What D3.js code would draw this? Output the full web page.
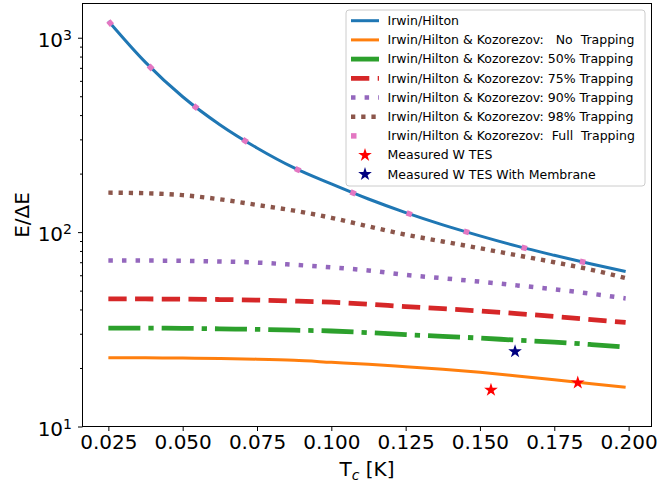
<!DOCTYPE html>
<html>
<head>
<meta charset="utf-8">
<script src="https://cdn.jsdelivr.net/npm/d3@7"></script>
<style>
  body { margin: 0; background: #fff; }
  svg text { font-family: "DejaVu Sans", sans-serif; fill: #000; }
</style>
</head>
<body>
<script>
// Tc [K] sample points and E/dE
var tc = [0.025, 0.0375, 0.05, 0.0625, 0.075, 0.0875, 0.1, 0.1125, 0.125, 0.1375, 0.15, 0.1625, 0.175, 0.1875, 0.199];
var irwinHilton = [1220, 747, 497, 357, 271, 214, 177, 148, 126, 109, 95.7, 84.7, 76, 68.6, 62.7];
var noTrap  = [22.6, 22.6, 22.5, 22.4, 22.2, 21.9, 21.4, 20.9, 20.3, 19.7, 19.0, 18.2, 17.4, 16.6, 15.9];
var trap50  = [32.1, 32.1, 32.0, 31.8, 31.6, 31.3, 31.0, 30.4, 29.7, 29.1, 28.5, 27.8, 27.2, 26.4, 25.6];
var trap75  = [45.4, 45.3, 45.2, 45.0, 44.7, 44.2, 43.6, 42.6, 41.4, 40.4, 39.3, 38.1, 36.8, 35.5, 34.3];
var trap90  = [71.5, 71.4, 71.2, 70.6, 69.7, 67.9, 65.9, 63.5, 60.3, 57.9, 55.6, 53.2, 50.8, 48.2, 45.6];
var trap98  = [159.6, 158.5, 155, 147.5, 138, 129, 118.5, 107, 97, 89.5, 82.6, 76, 70, 64, 58];
var fullTrap = [1220, 747, 497, 357, 271, 214, 177, 148, 126, 109, 95.7, 84.7, 76, 68.6, 62.7];

var measTc = [0.1537, 0.1829];
var measE = [15.4, 16.8];
var membTc = [0.1618];
var membE = [24.3];

var xTicks = [0.025, 0.05, 0.075, 0.1, 0.125, 0.15, 0.175, 0.2];
var yTicks = [10, 100, 1000];

var W = 657, H = 487;
var m = {left: 82.5, right: 651.5, top: 3.5, bottom: 426.5};

var svg = d3.select("body").append("svg")
    .attr("width", W).attr("height", H);

var pad = (0.199 - 0.025) * 0.05;
var x = d3.scaleLinear().domain([0.025 - pad, 0.199 + pad]).range([m.left, m.right]);
var y = d3.scaleLog().domain([10, 1500]).range([m.bottom, m.top]);

svg.append("clipPath").attr("id", "clip")
  .append("rect").attr("x", m.left).attr("y", m.top)
  .attr("width", m.right - m.left).attr("height", m.bottom - m.top);

var lines = [
  {name: "Irwin/Hilton", vals: irwinHilton, color: "#1f77b4", w: 3, dash: null},
  {name: "Irwin/Hilton & Kozorezov:   No  Trapping", vals: noTrap, color: "#ff7f0e", w: 3, dash: null},
  {name: "Irwin/Hilton & Kozorezov: 50% Trapping", vals: trap50, color: "#2ca02c", w: 4.8, dash: "32,8,5.3,8"},
  {name: "Irwin/Hilton & Kozorezov: 75% Trapping", vals: trap75, color: "#d62728", w: 4.8, dash: "18.3,8.4"},
  {name: "Irwin/Hilton & Kozorezov: 90% Trapping", vals: trap90, color: "#9467bd", w: 4.5, dash: "4.5,9.1"},
  {name: "Irwin/Hilton & Kozorezov: 98% Trapping", vals: trap98, color: "#8c564b", w: 4.4, dash: "4.3,5.9"},
  {name: "Irwin/Hilton & Kozorezov:  Full  Trapping", vals: fullTrap, color: "#e377c2", w: 5.5, dash: "5.5,54.5"}
];

var line = d3.line()
  .x(function(d) { return x(d[0]); })
  .y(function(d) { return y(d[1]); })
  .curve(d3.curveMonotoneX);

var plot = svg.append("g").attr("clip-path", "url(#clip)");

lines.forEach(function(s) {
  plot.append("path")
    .attr("d", line(tc.map(function(t, i) { return [t, s.vals[i]]; })))
    .attr("fill", "none")
    .attr("stroke", s.color)
    .attr("stroke-width", s.w)
    .attr("stroke-dasharray", s.dash);
});

var star = d3.symbol().type(d3.symbolStar).size(58);

plot.selectAll(".meas").data(measTc).enter().append("path")
  .attr("d", star)
  .attr("transform", function(d, i) { return "translate(" + x(d) + "," + y(measE[i]) + ")"; })
  .attr("fill", "red");

plot.selectAll(".memb").data(membTc).enter().append("path")
  .attr("d", star)
  .attr("transform", function(d, i) { return "translate(" + x(d) + "," + y(membE[i]) + ")"; })
  .attr("fill", "#000080");

// axes
var xAxis = svg.append("g")
  .attr("transform", "translate(0," + m.bottom + ")")
  .call(d3.axisBottom(x).tickValues(xTicks).tickFormat(d3.format(".3f")).tickSize(4.5).tickPadding(4));
xAxis.select(".domain").remove();
xAxis.selectAll("text").attr("font-size", 20).attr("font-family", "DejaVu Sans").attr("fill", "#000");

var minors = [];
[10, 100].forEach(function(dec) {
  for (var k = 2; k <= 9; k++) minors.push(k * dec);
});
var yMinor = svg.append("g")
  .attr("transform", "translate(" + m.left + ",0)")
  .call(d3.axisLeft(y).tickValues(minors).tickFormat("").tickSize(2.5));
yMinor.select(".domain").remove();

var yAxis = svg.append("g")
  .attr("transform", "translate(" + m.left + ",0)")
  .call(d3.axisLeft(y).tickValues(yTicks).tickFormat("").tickSize(4.5));
yAxis.select(".domain").remove();
yAxis.selectAll(".tick text").remove();
yAxis.selectAll(".tick").append("text")
  .attr("x", -10.5)
  .attr("y", 8.5)
  .attr("text-anchor", "end")
  .attr("font-size", 20)
  .each(function(d) {
    var t = d3.select(this);
    t.append("tspan").text("10");
    t.append("tspan").attr("font-size", 14).attr("dy", -6.7).text(Math.round(Math.log10(d)));
  });

svg.selectAll(".tick line").attr("stroke", "#000").attr("stroke-width", 1);

svg.append("rect")
  .attr("x", m.left).attr("y", m.top)
  .attr("width", m.right - m.left).attr("height", m.bottom - m.top)
  .attr("fill", "none").attr("stroke", "#000").attr("stroke-width", 1);

// axis labels
svg.append("text")
  .attr("transform", "translate(29," + ((m.top + m.bottom) / 2) + ") rotate(-90)")
  .attr("text-anchor", "middle")
  .attr("font-size", 20)
  .text("E/\u0394E");

var xl = svg.append("text")
  .attr("x", (m.left + m.right) / 2).attr("y", 476)
  .attr("text-anchor", "middle")
  .attr("font-size", 20);
xl.append("tspan").text("T");
xl.append("tspan").attr("font-size", 14).attr("font-style", "italic").attr("dy", 4).text("c");
xl.append("tspan").attr("dy", -4).text(" [K]");

// legend
var lg = svg.append("g");
lg.append("rect")
  .attr("x", 346).attr("y", 10).attr("width", 299).attr("height", 176).attr("rx", 3)
  .attr("fill", "#fff").attr("fill-opacity", 0.8)
  .attr("stroke", "#cccccc").attr("stroke-width", 1);

var rowY = function(i) { return 20.7 + i * 19.2; };

lines.forEach(function(s, i) {
  lg.append("line")
    .attr("x1", 351).attr("x2", 379).attr("y1", rowY(i)).attr("y2", rowY(i))
    .attr("stroke", s.color).attr("stroke-width", s.w)
    .attr("stroke-dasharray", s.dash);
  lg.append("text")
    .attr("x", 387.5).attr("y", rowY(i))
    .attr("dy", "0.35em")
    .attr("font-size", 12.5)
    .style("white-space", "pre")
    .text(s.name);
});

var markers = [
  {name: "Measured W TES", color: "red"},
  {name: "Measured W TES With Membrane", color: "#000080"}
];
markers.forEach(function(mk, j) {
  var i = lines.length + j;
  lg.append("path").attr("d", star)
    .attr("transform", "translate(365," + rowY(i) + ")")
    .attr("fill", mk.color);
  lg.append("text")
    .attr("x", 387.5).attr("y", rowY(i))
    .attr("dy", "0.35em")
    .attr("font-size", 12.5)
    .text(mk.name);
});
</script>
</body>
</html>
